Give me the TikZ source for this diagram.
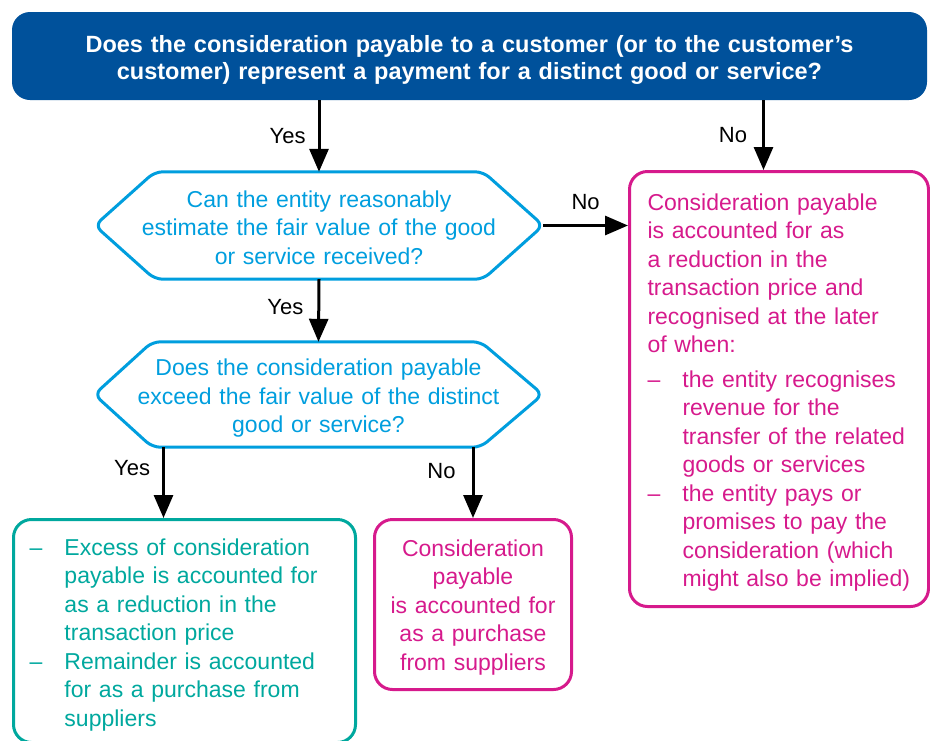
\documentclass[tikz,border=0pt]{standalone}
\usepackage{fontspec}
\setmainfont{Liberation Sans}
\usepackage{tikz}
\usetikzlibrary{positioning}
\usetikzlibrary{arrows.meta}

\definecolor{kblue}{RGB}{0,81,155}
\definecolor{klight}{RGB}{0,158,222}
\definecolor{kteal}{RGB}{0,168,158}
\definecolor{kpink}{RGB}{214,26,140}

\newcommand{\bitem}[2][35pt]{\makebox[#1][l]{–}\mbox{#2}}
\newcommand{\bcont}[2][35pt]{\hspace*{#1}\mbox{#2}}
\newcommand{\topstrut}[1]{\rule{0pt}{#1}}

\tikzset{
  titlebox/.style={rounded corners=18pt, fill=kblue, text=white, align=center, text width=880pt,
    font=\bfseries\fontsize{23.5}{27}\selectfont, minimum width=915pt, minimum height=88pt},
  hexnode/.style={text=klight, align=center, inner sep=0pt, text width=448pt, minimum width=448pt},
  hexline/.style={draw=klight, line width=3pt, rounded corners=8pt, line join=round},
  pinkbox/.style={draw=kpink, text=kpink, line width=3pt, rounded corners=18pt, anchor=north west},
  tealbox/.style={draw=kteal, text=kteal, line width=3pt, rounded corners=18pt, anchor=north west},
  arr/.style={line width=3pt, -{Triangle[width=19pt,length=23pt]}},
  lab/.style={text=black, font=\fontsize{22}{26}\selectfont, inner sep=0pt}
}

\begin{document}
\begin{tikzpicture}[x=1pt, y=-1pt, every node/.style={font=\fontsize{23}{28.5}\selectfont}]
  \useasboundingbox (0,0) rectangle (930,740);

  \node[titlebox] (title) at (469.5,56) {\topstrut{24.5pt}Does the consideration payable to a customer (or to the customer’s\\customer) represent a payment for a distinct good or service?};

  % the two questions
  \node[hexnode, minimum height=107pt] (hexA) at (319,225.5) {\topstrut{21pt}Can the entity reasonably\\estimate the fair value of the good\\or service received?};
  \draw[hexline] (hexA.west) -- ([xshift=60pt]hexA.north west) -- ([xshift=-60pt]hexA.north east) -- (hexA.east)
    -- ([xshift=-60pt]hexA.south east) -- ([xshift=60pt]hexA.south west) -- cycle;

  \node[hexnode, minimum height=105pt] (hexB) at (318.5,394.5) {\topstrut{24.5pt}Does the consideration payable\\exceed the fair value of the distinct\\good or service?};
  \draw[hexline] (hexB.west) -- ([xshift=58pt]hexB.north west) -- ([xshift=-62pt]hexB.north east) -- (hexB.east)
    -- ([xshift=-62pt]hexB.south east) -- ([xshift=58pt]hexB.south west) -- cycle;

  % outcomes
  \node[pinkbox, minimum width=299pt, minimum height=435pt, text width=263pt, inner xsep=18pt, align=left] (rbox) at (628,170)
    {\topstrut{24pt}Consideration payable\\is accounted for as\\a reduction in the\\transaction price and\\recognised at the later\\of when:\\[6pt]
     \bitem{the entity recognises}\\\bcont{revenue for the}\\\bcont{transfer of the related}\\\bcont{goods or services}\\
     \bitem{the entity pays or}\\\bcont{promises to pay the}\\\bcont{consideration (which}\\\bcont{might also be implied)}};

  \node[pinkbox, minimum width=197pt, minimum height=170pt, text width=197pt, align=center, inner sep=0pt] (mbox) at (373,518)
    {\topstrut{22.5pt}Consideration\\payable\\is accounted for\\as a purchase\\from suppliers};

  \node[tealbox, minimum width=342pt, minimum height=223pt, text width=310pt, inner xsep=16pt, align=left] (tbox) at (12,518)
    {\topstrut{24.5pt}\bitem{Excess of consideration}\\\bcont{payable is accounted for}\\\bcont{as a reduction in the}\\\bcont{transaction price}\\
     \bitem{Remainder is accounted}\\\bcont{for as a purchase from}\\\bcont{suppliers}};

  \coordinate (noTop) at ([xshift=-15.5pt]rbox.north);
  \coordinate (yesEnd) at ([xshift=-21pt]tbox.north);

  % arrows
  \draw[arr] (hexA.north |- title.south) -- node[lab, left=12pt] (yesA) {Yes} (hexA.north);
  \draw[arr] (noTop |- title.south) -- node[lab, left=15pt] (noA) {No} (noTop);
  \draw[arr] (hexA.east) -- node[lab, above=14pt] (noB) {No} (hexA.east -| rbox.west);
  \draw[arr] (hexA.south) -- node[lab, left=14pt, pos=.45] (yesB) {Yes} (hexB.north);
  \draw[arr] (yesEnd |- hexB.south) -- node[lab, left=12pt, pos=.3] (yesC) {Yes} (yesEnd);
  \draw[arr] (mbox.north |- hexB.south) -- node[lab, left=16pt, pos=.33] (noC) {No} (mbox.north);
\end{tikzpicture}
\end{document}
